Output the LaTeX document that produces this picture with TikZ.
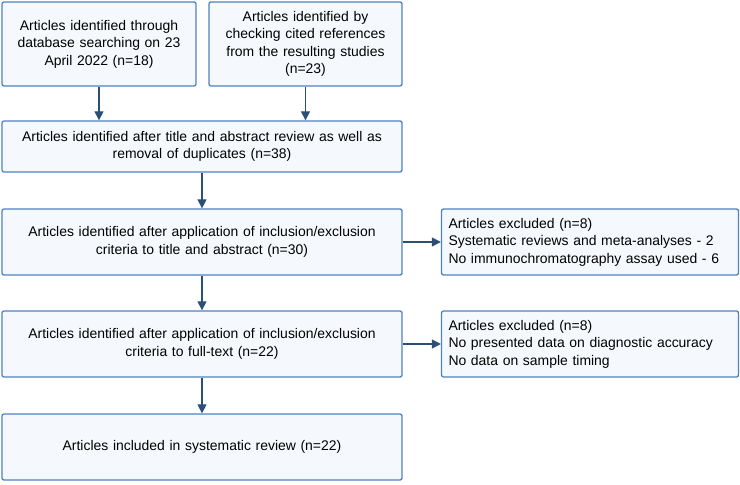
\documentclass[tikz,border=0pt]{standalone}
\usepackage{fontspec}
\setmainfont{Liberation Sans}
\usetikzlibrary{arrows.meta}
\definecolor{boxline}{HTML}{4F82C0}
\definecolor{boxfill}{HTML}{F5F9FD}
\definecolor{arrline}{HTML}{2C4F78}
\begin{document}
\begin{tikzpicture}[x=1bp, y=-1bp,
	stagebox/.style={shape=rectangle, rounded corners=2bp, draw=boxline, fill=boxfill, line width=1.3bp, align=center, inner sep=0pt, font=\fontsize{14}{17.5}\selectfont},
	exclbox/.style={stagebox, align=left, text width=283bp, minimum width=297bp, minimum height=66bp},
	flow/.style={draw=arrline, line width=1.2bp, -{Triangle[length=9bp,width=9bp]}}]
	\useasboundingbox (0,0) rectangle (740,485);
	
	\node (a1)[stagebox, minimum width=194bp, minimum height=84bp, text width=190bp] 
	at (99,44){
		Articles identified through \\
		database searching on 23 \\
		April 2022 (n=18)
	};
	
	\node (a2)[stagebox, minimum width=193bp, minimum height=84bp, text width=190bp] 
	at (305.5,44){
		Articles identified by \\
		checking cited references \\
		from the resulting studies \\
		(n=23)
	};
	
	\node (s1)[stagebox, minimum width=400bp, minimum height=51bp, text width=390bp] 
	at (202,146.5){
		Articles identified after title and abstract review as well as \\
		removal of duplicates (n=38)
	};
	
	\node (s2)[stagebox, minimum width=400bp, minimum height=66bp, text width=390bp] 
	at (202,242){
		Articles identified after application of inclusion/exclusion \\
		criteria to title and abstract (n=30)
	};
	
	\node (s3)[stagebox, minimum width=400bp, minimum height=66bp, text width=390bp] 
	at (202,344){
		Articles identified after application of inclusion/exclusion \\
		criteria to full-text (n=22)
	};
	
	\node (s4)[stagebox, minimum width=400bp, minimum height=66bp, text width=390bp] 
	at (202,447){
		Articles included in systematic review (n=22)
	};
	
	\node (x1)[exclbox] 
	at (590,242){
		Articles excluded (n=8) \\
		Systematic reviews and meta-analyses - 2 \\
		No immunochromatography assay used - 6
	};
	
	\node (x2)[exclbox] 
	at (590,344){
		Articles excluded (n=8) \\
		No presented data on diagnostic accuracy \\
		No data on sample timing
	};
	
	\draw[flow] (a1.south) -- (a1.south |- s1.north);
	\draw[flow] (a2.south) -- (a2.south |- s1.north);
	\draw[flow] (s1) -- (s2);
	\draw[flow] (s2) -- (s3);
	\draw[flow] (s3) -- (s4);
	\draw[flow] (s2) -- (x1);
	\draw[flow] (s3) -- (x2);
\end{tikzpicture}
\end{document}
